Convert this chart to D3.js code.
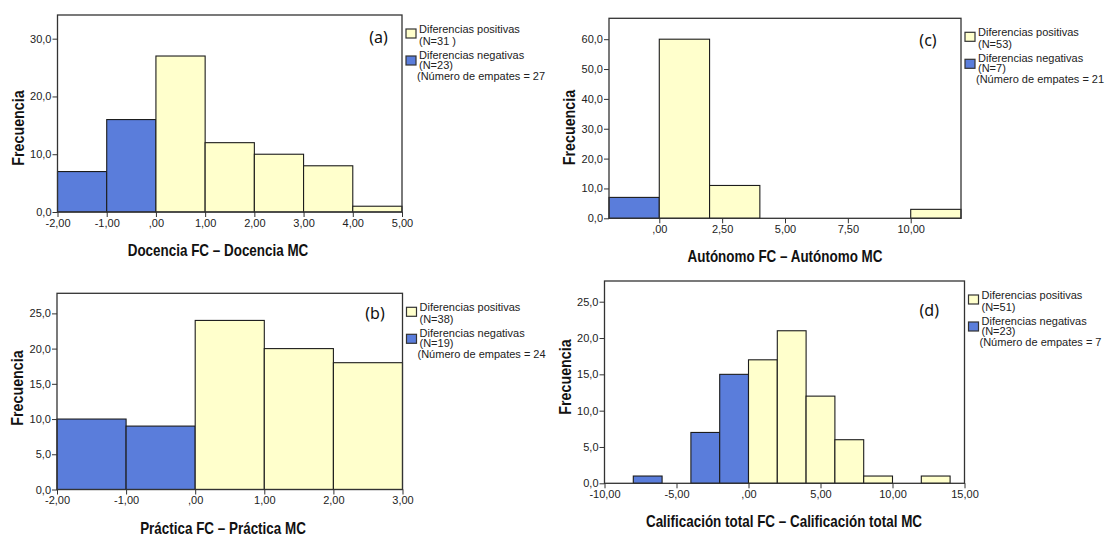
<!DOCTYPE html>
<html>
<head>
<meta charset="utf-8">
<script src="https://cdn.jsdelivr.net/npm/d3@7"></script>
<style>
  body { margin: 0; background: #fff; }
  svg { display: block; }
  .tick text { font-family: "Liberation Sans", Arial, sans-serif; font-size: 11px; fill: #222; }
  .tick line { stroke: #333; }
</style>
</head>
<body>
<div id="chart"></div>
<script>
// ---- data ----
// (a) Docencia
const binsA   = [-2, -1, 0, 1, 2, 3, 4];
const countsA = [7, 16, 27, 12, 10, 8, 1];
const xTicksA = [-2, -1, 0, 1, 2, 3, 4, 5];
const yTicksA = [0, 10, 20, 30];
const legendA = ["Diferencias positivas", "(N=31 )", "Diferencias negativas", "(N=23)", "(Número de empates = 27"];

// (b) Práctica
const binsB   = [-2, -1, 0, 1, 2];
const countsB = [10, 9, 24, 20, 18];
const xTicksB = [-2, -1, 0, 1, 2, 3];
const yTicksB = [0, 5, 10, 15, 20, 25];
const legendB = ["Diferencias positivas", "(N=38)", "Diferencias negativas", "(N=19)", "(Número de empates = 24"];

// (c) Autónomo
const binsC   = [-2, 0, 2, 10];
const countsC = [7, 60, 11, 3];
const xTicksC = [0, 2.5, 5, 7.5, 10];
const yTicksC = [0, 10, 20, 30, 40, 50, 60];
const legendC = ["Diferencias positivas", "(N=53)", "Diferencias negativas", "(N=7)", "(Número de empates = 21"];

// (d) Calificación total
const binsD   = [-8, -4, -2, 0, 2, 4, 6, 8, 12];
const countsD = [1, 7, 15, 17, 21, 12, 6, 1, 1];
const xTicksD = [-10, -5, 0, 5, 10, 15];
const yTicksD = [0, 5, 10, 15, 20, 25];
const legendD = ["Diferencias positivas", "(N=51)", "Diferencias negativas", "(N=23)", "(Número de empates = 7"];

const colors = { neg: "#5a7ddb", pos: "#ffffcc", stroke: "#1c1c1c", frame: "#333" };

const panels = [
  { tag: "(a)", bins: binsA, counts: countsA, binWidth: 1, xDomain: [-2, 5], yMax: 34.1,
    xTicks: xTicksA, yTicks: yTicksA, legend: legendA, xTitle: "Docencia FC – Docencia MC",
    box: { left: 57.5, right: 402, top: 15, bottom: 212 }, tagPos: [378.6, 37], xTitleX: 218, yTitleY: 128 },
  { tag: "(b)", bins: binsB, counts: countsB, binWidth: 1, xDomain: [-2, 3], yMax: 27.85,
    xTicks: xTicksB, yTicks: yTicksB, legend: legendB, xTitle: "Práctica FC – Práctica MC",
    box: { left: 57, right: 402.5, top: 293.3, bottom: 489.5 }, tagPos: [375, 313.3], xTitleX: 223, yTitleY: 388 },
  { tag: "(c)", bins: binsC, counts: countsC, binWidth: 2, xDomain: [-2, 12], yMax: 67,
    xTicks: xTicksC, yTicks: yTicksC, legend: legendC, xTitle: "Autónomo FC – Autónomo MC",
    box: { left: 609, right: 961, top: 18.3, bottom: 218.3 }, tagPos: [928, 40], xTitleX: 785, yTitleY: 127.5 },
  { tag: "(d)", bins: binsD, counts: countsD, binWidth: 2, xDomain: [-10, 15], yMax: 27.85,
    xTicks: xTicksD, yTicks: yTicksD, legend: legendD, xTitle: "Calificación total FC – Calificación total MC",
    box: { left: 604.5, right: 964.5, top: 281, bottom: 483.3 }, tagPos: [929.3, 310], xTitleX: 784, yTitleY: 377 }
];

// SPSS style numbers: comma decimals, hyphen minus, ",00" for zero
const fmtX = v => { const s = d3.format(".2f")(v).replace(".", ",").replace("−", "-"); return s === "0,00" ? ",00" : s; };
const fmtY = v => d3.format(".1f")(v).replace(".", ",").replace("−", "-");

const svg = d3.select("#chart").append("svg")
  .attr("width", 1106)
  .attr("height", 536);

// no narrow face installed, so bold titles are squeezed horizontally
const narrow = 0.84;

panels.forEach(p => {
  const { left, right, top, bottom } = p.box;
  const x = d3.scaleLinear().domain(p.xDomain).range([left, right]);
  const y = d3.scaleLinear().domain([0, p.yMax]).range([bottom, top]);
  const g = svg.append("g");

  const data = p.bins.map((b, i) => ({ x0: b, x1: b + p.binWidth, n: p.counts[i] }));

  // bars
  g.append("g")
    .selectAll("rect")
    .data(data)
    .join("rect")
      .attr("x", d => x(d.x0))
      .attr("width", d => x(d.x1) - x(d.x0))
      .attr("y", d => y(d.n))
      .attr("height", d => y(0) - y(d.n))
      .attr("fill", d => d.x0 < 0 ? colors.neg : colors.pos)
      .attr("stroke", colors.stroke)
      .attr("stroke-width", 1.1);

  // frame
  g.append("rect")
    .attr("x", left).attr("y", top)
    .attr("width", right - left).attr("height", bottom - top)
    .attr("fill", "none")
    .attr("stroke", colors.frame)
    .attr("stroke-width", 1.3);

  // axes
  g.append("g")
    .attr("transform", `translate(0,${bottom})`)
    .call(d3.axisBottom(x).tickValues(p.xTicks).tickFormat(fmtX).tickSize(5).tickPadding(2))
    .call(a => a.select(".domain").remove());

  g.append("g")
    .attr("transform", `translate(${left},0)`)
    .call(d3.axisLeft(y).tickValues(p.yTicks).tickFormat(fmtY).tickSize(5).tickPadding(1))
    .call(a => a.select(".domain").remove());

  // panel tag
  g.append("text")
    .attr("x", p.tagPos[0]).attr("y", p.tagPos[1])
    .attr("text-anchor", "middle")
    .attr("dominant-baseline", "central")
    .style("font-family", "'Noto Sans', 'Open Sans', sans-serif")
    .style("font-size", "16px")
    .style("fill", "#111")
    .text(p.tag);

  // axis titles
  g.append("text")
    .attr("transform", `translate(${p.xTitleX},${bottom + 44}) scale(${narrow},1)`)
    .attr("text-anchor", "middle")
    .style("font-family", "'Liberation Sans', Arial, sans-serif")
    .style("font-weight", "bold")
    .style("font-size", "16px")
    .style("fill", "#111")
    .text(p.xTitle);

  g.append("text")
    .attr("transform", `translate(${left - 34},${p.yTitleY}) rotate(-90) scale(${narrow},1)`)
    .attr("text-anchor", "middle")
    .style("font-family", "'Liberation Sans', Arial, sans-serif")
    .style("font-weight", "bold")
    .style("font-size", "17px")
    .style("fill", "#111")
    .text("Frecuencia");

  // legend
  const lx = right + 4;
  const base = top + 18;
  const lineY = [base, base + 11.5, base + 26, base + 36, base + 46.5];
  g.append("rect")
    .attr("x", lx).attr("y", lineY[0] - 4).attr("width", 10).attr("height", 9)
    .attr("fill", colors.pos).attr("stroke", "#333").attr("stroke-width", 1.2);
  g.append("rect")
    .attr("x", lx).attr("y", lineY[2] - 3).attr("width", 10).attr("height", 9)
    .attr("fill", colors.neg).attr("stroke", "#333").attr("stroke-width", 1.2);
  g.append("g")
    .selectAll("text")
    .data(p.legend)
    .join("text")
      .attr("x", (d, i) => i === 4 ? lx + 11 : lx + 13)
      .attr("y", (d, i) => lineY[i])
      .style("font-family", "'Liberation Sans', Arial, sans-serif")
      .style("font-size", "11px")
      .style("fill", "#222")
      .text(d => d);
});
</script>
</body>
</html>
